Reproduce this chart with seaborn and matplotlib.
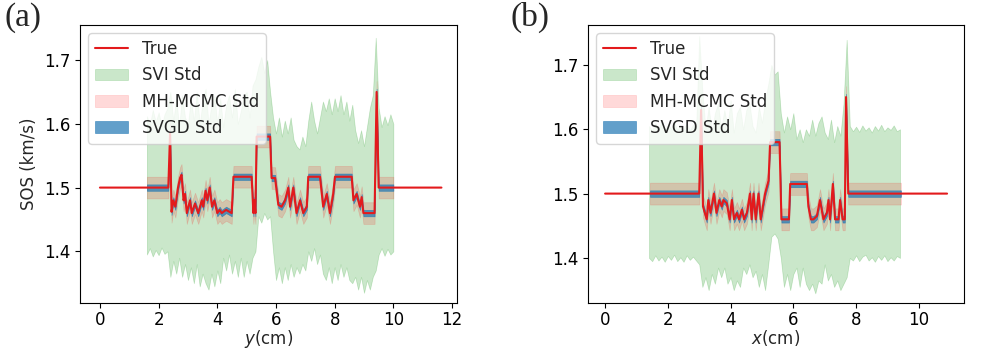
import numpy as np
import matplotlib.pyplot as plt
import seaborn as sns

sns.set_style("ticks")
plt.rcParams['font.family'] = ['DejaVu Sans']
plt.rcParams['axes.edgecolor'] = 'black'
plt.rcParams['xtick.color'] = 'black'
plt.rcParams['ytick.color'] = 'black'

# ---- panel (a): profile along y ----
y_pos = [0.0, 1.6, 2.33, 2.39, 2.44, 2.5, 2.57, 2.66, 2.73, 2.78,
         2.85, 2.9, 2.96, 3.07, 3.13, 3.24, 3.35, 3.47, 3.52, 3.6,
         3.66, 3.74, 3.82, 3.9, 4.0, 4.08, 4.15, 4.3, 4.49, 4.55,
         5.17, 5.23, 5.26, 5.3, 5.34, 5.8, 5.85, 5.97, 6.08, 6.19,
         6.31, 6.42, 6.48, 6.59, 6.7, 6.82, 6.93, 7.05, 7.1, 7.5,
         7.61, 7.73, 7.84, 7.95, 8.01, 8.58, 8.64, 8.75, 8.86, 8.92,
         8.98, 9.36, 9.43, 9.5, 10.0, 11.64]
y_true = [1.5, 1.5, 1.5, 1.585, 1.462, 1.48, 1.47, 1.50, 1.515, 1.52,
          1.48, 1.49, 1.46, 1.48, 1.46, 1.475, 1.46, 1.48, 1.47, 1.495,
          1.48, 1.50, 1.47, 1.48, 1.46, 1.465, 1.46, 1.465, 1.46, 1.517,
          1.517, 1.46, 1.48, 1.46, 1.58, 1.58, 1.515, 1.515, 1.473, 1.47,
          1.48, 1.50, 1.47, 1.50, 1.46, 1.48, 1.46, 1.47, 1.517, 1.517,
          1.47, 1.49, 1.46, 1.49, 1.517, 1.517, 1.48, 1.49, 1.47, 1.485,
          1.46, 1.46, 1.65, 1.5, 1.5, 1.5]
y_band = (1.6, 10.0)
y_svi_x = np.round(np.arange(1.6, 10.05, 0.1), 2)
y_svi_hi = [1.612, 1.598, 1.622, 1.603, 1.618, 1.597, 1.615, 1.625,
            1.65, 1.605, 1.64, 1.595, 1.645, 1.61, 1.60, 1.64, 1.605, 1.65,
            1.60, 1.635, 1.655, 1.60, 1.63, 1.645, 1.60, 1.64, 1.595, 1.63,
            1.645, 1.61, 1.655, 1.60, 1.62, 1.645, 1.65, 1.61, 1.66, 1.67,
            1.69, 1.705, 1.68, 1.70, 1.65,
            1.61, 1.585, 1.61, 1.58, 1.605, 1.585, 1.61, 1.575, 1.565, 1.56,
            1.58, 1.565, 1.605, 1.635, 1.605, 1.585, 1.61, 1.635, 1.62, 1.64,
            1.615, 1.64, 1.62, 1.645, 1.615, 1.635, 1.605, 1.63, 1.59, 1.57,
            1.59, 1.565, 1.595, 1.625, 1.645, 1.735, 1.625, 1.595, 1.612, 1.598,
            1.615, 1.60]
y_svi_lo = [1.395, 1.405, 1.392, 1.402, 1.394, 1.406, 1.396, 1.40,
            1.36, 1.385, 1.365, 1.39, 1.36, 1.38, 1.355, 1.375, 1.35, 1.38,
            1.345, 1.365, 1.35, 1.34, 1.365, 1.345, 1.37, 1.35, 1.39, 1.37,
            1.395, 1.365, 1.385, 1.36, 1.39, 1.36, 1.385, 1.365, 1.39, 1.40,
            1.455, 1.445, 1.46, 1.45, 1.455,
            1.40, 1.355, 1.375, 1.35, 1.375, 1.355, 1.38, 1.36, 1.375, 1.365,
            1.38, 1.37, 1.40, 1.385, 1.405, 1.38, 1.395, 1.365, 1.355, 1.375,
            1.35, 1.375, 1.355, 1.38, 1.36, 1.375, 1.355, 1.35, 1.36, 1.34,
            1.36, 1.335, 1.355, 1.34, 1.36, 1.37, 1.395, 1.405, 1.393, 1.404,
            1.395, 1.40]

# ---- panel (b): profile along x ----
x_pos = [0.0, 1.43, 3.0, 3.06, 3.12, 3.18, 3.24, 3.29, 3.36, 3.47,
         3.55, 3.64, 3.72, 3.77, 3.88, 3.97, 4.04, 4.11, 4.2, 4.27,
         4.36, 4.43, 4.52, 4.62, 4.67, 4.73, 4.8, 4.89, 4.96, 5.03,
         5.1, 5.21, 5.26, 5.56, 5.62, 5.86, 5.9, 6.43, 6.48, 6.56,
         6.64, 6.75, 6.85, 6.96, 7.07, 7.12, 7.17, 7.26, 7.33, 7.44,
         7.49, 7.57, 7.64, 7.68, 7.75, 9.43, 10.9]
x_true = [1.5, 1.5, 1.5, 1.63, 1.48, 1.47, 1.46, 1.49, 1.47, 1.50,
          1.47, 1.49, 1.48, 1.49, 1.485, 1.46, 1.49, 1.46, 1.47, 1.46,
          1.475, 1.46, 1.47, 1.50, 1.46, 1.50, 1.46, 1.50, 1.46, 1.48,
          1.50, 1.52, 1.58, 1.58, 1.46, 1.46, 1.515, 1.515, 1.48, 1.46,
          1.46, 1.465, 1.49, 1.46, 1.47, 1.49, 1.46, 1.515, 1.46, 1.46,
          1.49, 1.46, 1.46, 1.65, 1.5, 1.5, 1.5]
x_band = (1.43, 9.43)
x_svi_x = np.round(np.arange(1.4, 9.45, 0.1), 2)
x_svi_hi = [1.605, 1.598, 1.61, 1.60, 1.612, 1.597, 1.608, 1.60, 1.611, 1.599,
            1.606, 1.60, 1.61, 1.598, 1.607, 1.60,
            1.745, 1.66,
            1.60, 1.635, 1.595, 1.625, 1.64, 1.60, 1.63, 1.605, 1.645, 1.595,
            1.625, 1.635, 1.60, 1.63, 1.64, 1.605, 1.595, 1.635, 1.61, 1.645,
            1.67, 1.70, 1.685, 1.69,
            1.625, 1.595, 1.62, 1.60, 1.625, 1.585, 1.60, 1.58, 1.60, 1.59,
            1.615, 1.59, 1.61, 1.62, 1.595, 1.585, 1.615, 1.58, 1.605, 1.59,
            1.64, 1.739,
            1.605, 1.597, 1.604, 1.596, 1.606, 1.598, 1.603, 1.595, 1.605, 1.598,
            1.607, 1.597, 1.603, 1.599, 1.606, 1.597, 1.60]
x_svi_lo = [1.40, 1.395, 1.404, 1.396, 1.402, 1.394, 1.403, 1.397, 1.405, 1.395,
            1.401, 1.394, 1.404, 1.397, 1.402, 1.396,
            1.39, 1.355,
            1.37, 1.35, 1.375, 1.36, 1.385, 1.37, 1.385, 1.36, 1.37, 1.35,
            1.365, 1.355, 1.385, 1.375, 1.39, 1.37, 1.38, 1.355, 1.375, 1.35,
            1.39, 1.433, 1.438, 1.43,
            1.40, 1.355, 1.375, 1.35, 1.375, 1.385, 1.355, 1.385, 1.36, 1.35,
            1.36, 1.345, 1.365, 1.36, 1.39, 1.365, 1.375, 1.355, 1.365, 1.35,
            1.36, 1.37,
            1.40, 1.396, 1.404, 1.395, 1.402, 1.405, 1.396, 1.401, 1.394, 1.403,
            1.397, 1.404, 1.395, 1.401, 1.396, 1.403, 1.40]

mh_std = 0.017
svgd_std = 0.005

c_true = '#e31a1c'
c_svi = 'tab:green'
c_mh = 'red'
c_svgd = 'tab:blue'


def draw_panel(ax, pos, true, band, svi_x, svi_hi, svi_lo, xlabel, xlim, ylim):
    pos = np.array(pos)
    true = np.array(true)
    sns.lineplot(x=pos, y=true, ax=ax, color=c_true, lw=1.5, label='True',
                 sort=False, estimator=None, zorder=5)
    ax.fill_between(svi_x, svi_lo, svi_hi, color=c_svi, alpha=0.25, lw=0.5,
                    label='SVI Std')
    m = (pos >= band[0]) & (pos <= band[1])
    ax.fill_between(pos[m], true[m] - mh_std, true[m] + mh_std, color=c_mh,
                    alpha=0.15, lw=0.5, label='MH-MCMC Std')
    ax.fill_between(pos[m], true[m] - svgd_std, true[m] + svgd_std,
                    color=c_svgd, alpha=0.7, lw=0.5, label='SVGD Std')
    ax.set_xlim(*xlim)
    ax.set_ylim(*ylim)
    ax.set_yticks([1.4, 1.5, 1.6, 1.7])
    ax.set_xlabel(xlabel, fontsize=12, labelpad=-0.3)
    ax.tick_params(labelsize=12, length=3.5, width=0.8)
    ax.tick_params(axis='x', pad=2.2)
    for s in ax.spines.values():
        s.set_linewidth(0.8)
    ax.legend(loc='upper left', fontsize=12, framealpha=0.8)


fig = plt.figure(figsize=(9.97, 3.49), dpi=100)
W, H = 997, 349
ax1 = fig.add_axes([80 / W, (H - 303) / H, 377 / W, 278 / H])
ax2 = fig.add_axes([588 / W, (H - 303) / H, 376 / W, 278 / H])

draw_panel(ax1, y_pos, y_true, y_band, y_svi_x, y_svi_hi, y_svi_lo,
           '$y$(cm)', (-0.68, 12.17), (1.319, 1.755))
ax1.set_ylabel('SOS (km/s)', fontsize=12)
draw_panel(ax2, x_pos, x_true, x_band, x_svi_x, x_svi_hi, x_svi_lo,
           '$x$(cm)', (-0.545, 11.44), (1.33, 1.762))

fig.text(5 / W, 1 - 2 / H, '(a)', fontsize=24, va='top', ha='left',
         family=['Liberation Serif'])
fig.text(510 / W, 1 - 2 / H, '(b)', fontsize=24, va='top', ha='left',
         family=['Liberation Serif'])

fig.savefig('out.png', dpi=100)
